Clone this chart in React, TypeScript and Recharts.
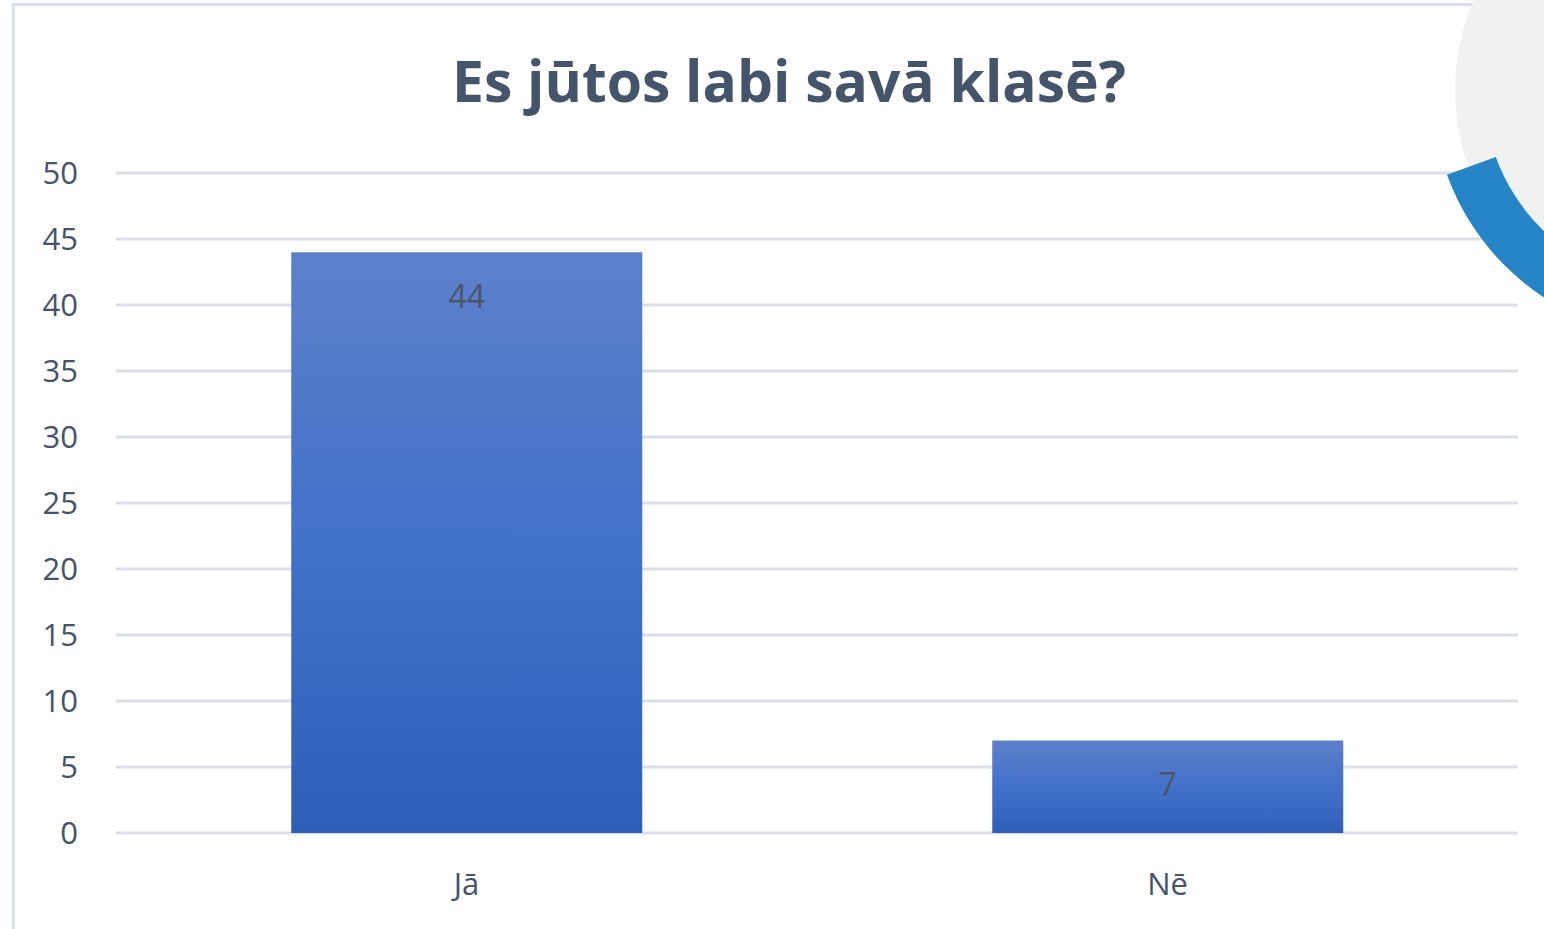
import { BarChart, Bar, XAxis, YAxis, CartesianGrid, LabelList } from "recharts";

const categories = ["Jā", "Nē"];
const answers = [44, 7];
const yTicks = [0, 5, 10, 15, 20, 25, 30, 35, 40, 45, 50];

const data = categories.map((answer, i) => ({ answer, count: answers[i] }));

const textColor = "#44546a";
const gridColor = "#d9dfe9";
const font = "'Open Sans', 'Noto Sans', sans-serif";

// decorative circle in the top right corner
function Decoration() {
  const cx = 1680;
  const cy = 90;
  const rIn = 196;
  const rOut = 248;
  const a0 = (160 * Math.PI) / 180;
  const a1 = (60 * Math.PI) / 180;
  const p = (r: number, a: number) => `${cx + r * Math.cos(a)} ${cy + r * Math.sin(a)}`;
  const arc = `M ${p(rOut, a0)} A ${rOut} ${rOut} 0 0 0 ${p(rOut, a1)} L ${p(rIn, a1)} A ${rIn} ${rIn} 0 0 1 ${p(rIn, a0)} Z`;
  return (
    <svg width={1544} height={929} style={{ position: "absolute", left: 0, top: 0, pointerEvents: "none" }}>
      <circle cx={cx} cy={cy} r={225} fill="#f0f2f2" />
      <path d={arc} fill="#2585c7" />
    </svg>
  );
}

export default function App() {
  return (
    <div style={{ position: "absolute", left: 0, top: 0, width: 1544, height: 929, background: "#fff", overflow: "hidden" }}>
      <div
        style={{
          position: "absolute",
          left: 12,
          top: 3,
          width: 1600,
          height: 1000,
          border: `3px solid ${gridColor}`,
          boxSizing: "border-box",
        }}
      />
      <div
        style={{
          position: "absolute",
          left: 0,
          top: 42,
          width: 1578,
          textAlign: "center",
          fontFamily: font,
          fontWeight: 700,
          fontSize: 57,
          color: textColor,
          lineHeight: "76px",
        }}
      >
        Es jūtos labi savā klasē?
      </div>
      <div style={{ position: "absolute", left: 0, top: 0 }}>
        <BarChart
          width={1544}
          height={929}
          data={data}
          margin={{ top: 173, right: 26, bottom: 66, left: 0 }}
          barCategoryGap="25%"
        >
          <defs>
            <linearGradient id="barFill" x1="0" y1="0" x2="0" y2="1">
              <stop offset="0%" stopColor="#5d80cb" />
              <stop offset="50%" stopColor="#4271c9" />
              <stop offset="100%" stopColor="#2e5fb8" />
            </linearGradient>
          </defs>
          <CartesianGrid vertical={false} stroke={gridColor} strokeWidth={3} />
          <XAxis
            dataKey="answer"
            axisLine={false}
            tickLine={false}
            tickSize={0}
            tickMargin={40}
            tick={{ fill: textColor, fontSize: 31, fontFamily: font }}
          />
          <YAxis
            width={116}
            domain={[0, 50]}
            ticks={yTicks}
            axisLine={false}
            tickLine={false}
            tickSize={0}
            tickMargin={38}
            tick={{ fill: textColor, fontSize: 31, fontFamily: font }}
          />
          <Bar dataKey="count" fill="url(#barFill)" isAnimationActive={false}>
            <LabelList
              dataKey="count"
              position="insideTop"
              offset={33}
              fill="#4a5568"
              fontSize={32}
              fontFamily={font}
            />
          </Bar>
        </BarChart>
      </div>
      <Decoration />
    </div>
  );
}
